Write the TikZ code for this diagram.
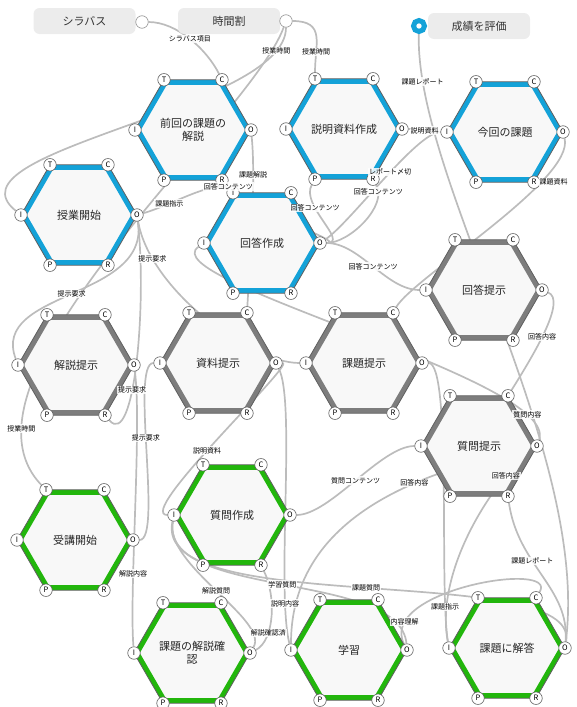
\documentclass[tikz,border=0pt]{standalone}
\usepackage{fontspec}
\setmainfont{Noto Sans CJK JP}
\usepackage{tikz}
\usetikzlibrary{shapes.geometric}
\definecolor{fblue}{RGB}{20,162,216}
\definecolor{fgray}{RGB}{125,125,125}
\definecolor{fgreen}{RGB}{34,182,12}
\definecolor{hexbg}{RGB}{248,248,248}
\definecolor{hexedge}{RGB}{95,95,95}
\definecolor{flowc}{RGB}{188,188,188}
\definecolor{boxc}{RGB}{236,236,236}
\pgfdeclarelayer{flows}
\pgfdeclarelayer{tags}
\pgfsetlayers{flows,main,tags}

\begin{document}
\begin{tikzpicture}[x=1pt,y=-1pt,
	fn/.style={regular polygon,regular polygon sides=6,minimum size=116pt,inner sep=0pt,outer sep=0pt,
		fill=hexbg,draw=hexedge,line width=0.8pt,align=center,text=black!85,font=\fontsize{11}{13.5}\selectfont,
		path picture={\draw[#1,line width=10pt] (path picture bounding box.center) +(0:58)
			\foreach \k in {60,120,...,300}{ -- +(\k:58)} -- cycle;}},
	aspect/.style={circle,draw=hexedge,fill=white,line width=0.6pt,minimum size=12.5pt,inner sep=0pt,font=\fontsize{7.5}{8}\selectfont},
	bgfn/.style={rounded corners=6pt,fill=boxc,minimum width=102pt,minimum height=26pt,font=\fontsize{11}{13}\selectfont,text=black!80},
	port/.style={circle,draw=hexedge!70,fill=white,line width=0.6pt,minimum size=12.5pt,inner sep=0pt},
	flow/.style={draw=flowc,line width=1.7pt},
	tag/.style={fill=white,fill opacity=.85,text opacity=1,inner sep=1pt,font=\fontsize{7}{8}\selectfont}]
	\useasboundingbox (0,0) rectangle (576,707);
	% background functions
	\node[bgfn] (syllabus) at (84.5,21) {シラバス};
	\node[port] (syllabus-o) at (142,22) {};
	\node[bgfn] (jikan) at (229,21) {時間割};
	\node[port] (jikan-o) at (286,21) {};
	\node[bgfn] (seiseki) at (479,26) {成績を評価};
	\node[circle,draw=fblue,fill=white,line width=5pt,minimum size=11pt,inner sep=0pt] (seiseki-i) at (419,26) {};
	% functions
	\node[fn=fblue] (zenkai) at (193,130) {前回の課題の\\解説};
	\node[fn=fblue] (setsumei) at (344,129) {説明資料作成};
	\node[fn=fblue] (konkai) at (505,132) {今回の課題};
	\node[fn=fblue] (jugyo) at (79,215) {授業開始};
	\node[fn=fblue] (kaitosakusei) at (262,243) {回答作成};
	\node[fn=fgray] (kaitoteiji) at (484,290) {回答提示};
	\node[fn=fgray] (kaisetsu) at (76,365) {解説提示};
	\node[fn=fgray] (shiryo) at (218,363) {資料提示};
	\node[fn=fgray] (kadai) at (364,363) {課題提示};
	\node[fn=fgray] (shitsumon) at (479,446) {質問提示};
	\node[fn=fgreen] (jukou) at (75,540) {受講開始};
	\node[fn=fgreen] (sakusei) at (232,515) {質問作成};
	\node[fn=fgreen] (kakunin) at (192,653) {課題の解説確\\認};
	\node[fn=fgreen] (gakushu) at (349,650) {学習};
	\node[fn=fgreen] (kaitou) at (507,648) {課題に解答};
	\foreach \f in {zenkai,setsumei,konkai,jugyo,kaitosakusei,kaitoteiji,kaisetsu,shiryo,kadai,shitsumon,jukou,sakusei,kakunin,gakushu,kaitou}
		\foreach \a/\d in {T/120,C/60,I/180,O/0,P/240,R/300}
			\node[aspect] (\f-\a) at (\f.\d) {\a};
	% couplings
	\begin{pgfonlayer}{flows}
		\draw[flow] (syllabus-o) .. controls +(35,0) and +(-15,-30) .. (zenkai-C) coordinate[pos=.5] (t1);
		\draw[flow] (jikan-o) .. controls +(0,89) and +(-81,-65) .. (jugyo-I) coordinate[pos=.1] (t2);
		\draw[flow] (jikan-o) .. controls +(40,0) and +(0,-35) .. (setsumei-T) coordinate[pos=.75] (t3);
		\draw[flow] (jikan-o) .. controls +(-36,99) and +(-106,-110) .. (jukou-T) coordinate[pos=.85] (t4);
		\draw[flow] (kaitou-O) .. controls +(25,-198) and +(-4,154) .. (seiseki-i) coordinate[pos=.9] (t5);
		\draw[flow] (setsumei-O) .. controls +(15,0) and +(-15,0) .. (konkai-I) coordinate[pos=.5] (t6);
		\draw[flow] (zenkai-O) .. controls +(5,50) and +(3,-53) .. (shiryo-C) coordinate[pos=.25] (t7);
		\draw[flow] (kaitosakusei-O) .. controls +(30,0) and +(15,26) .. (zenkai-R) coordinate[pos=.94,yshift=3pt] (t8);
		\draw[flow] (kaitosakusei-O) .. controls +(30,0) and +(-15,26) .. (setsumei-P) coordinate[pos=.68] (t9);
		\draw[flow] (kaitosakusei-O) .. controls +(30,0) and +(15,26) .. (setsumei-R) coordinate[pos=.9] (t10);
		\draw[flow] (konkai-O) .. controls +(12,48) and +(20,-35) .. (kadai-C) coordinate[pos=.27,xshift=12pt] (t11);
		\draw[flow] (jugyo-O) .. controls +(35,-10) and +(-20,-13) .. (kaitosakusei-T) coordinate[pos=.28] (t12);
		\draw[flow] (jugyo-O) .. controls +(13,75) and +(-56,0) .. (kadai-I) coordinate[pos=.18] (t13);
		\draw[flow] (jugyo-O) .. controls +(13,85) and +(-28,-75) .. (kaisetsu-I) coordinate[pos=.5] (t14);
		\draw[flow] (kaitosakusei-O) .. controls +(40,0) and +(-40,0) .. (kaitoteiji-I) coordinate[pos=.5] (t15);
		\draw[flow] (kaitoteiji-O) .. controls +(25,10) and +(25,-40) .. (shitsumon-C) coordinate[pos=.55] (t16);
		\draw[flow] (jugyo-O) .. controls +(10,85) and +(30,35) .. (kaisetsu-R) coordinate[pos=.62] (t17);
		\draw[flow] (shitsumon-O) .. controls +(23,-66) and +(-54,37) .. (kaitosakusei-I) coordinate[pos=.13] (t18);
		\draw[flow] (jukou-O) .. controls +(30,0) and +(-30,0) .. (shiryo-I) coordinate[pos=.55] (t19);
		\draw[flow] (shiryo-O) .. controls +(20,0) and +(-40,0) .. (sakusei-I) coordinate[pos=.55] (t20);
		\draw[flow] (shitsumon-O) .. controls +(-80,20) and +(0,-150) .. (gakushu-I) coordinate[pos=.4] (t21);
		\draw[flow] (shitsumon-O) .. controls +(-40,30) and +(-15,-80) .. (kaitou-I) coordinate[pos=.22] (t22);
		\draw[flow] (sakusei-O) .. controls +(40,0) and +(-40,0) .. (shitsumon-I) coordinate[pos=.5] (t23);
		\draw[flow] (kaisetsu-O) .. controls +(8,60) and +(-5,-60) .. (kakunin-I) coordinate[pos=.7] (t24);
		\draw[flow] (kakunin-O) .. controls +(20,-33) and +(-10,50) .. (sakusei-I) coordinate[pos=.5] (t25);
		\draw[flow] (gakushu-O) .. controls +(-7,-80) and +(-14,85) .. (sakusei-I) coordinate[pos=.5] (t26);
		\draw[flow] (kaitou-O) .. controls +(15,-88) and +(-24,105) .. (sakusei-I) coordinate[pos=.5] (t27);
		\draw[flow] (kaitou-O) .. controls +(5,-60) and +(10,70) .. (shitsumon-R) coordinate[pos=.62] (t28);
		\draw[flow] (shiryo-O) .. controls +(20,40) and +(-15,-60) .. (gakushu-I) coordinate[pos=.82] (t29);
		\draw[flow] (gakushu-O) .. controls +(-30,-60) and +(24,-38) .. (kaitou-C) coordinate[pos=.15] (t30);
		\draw[flow] (kadai-O) .. controls +(30,0) and +(-10,-60) .. (kaitou-I) coordinate[pos=.85] (t31);
		\draw[flow] (kakunin-O) .. controls +(25,-13) and +(15,30) .. (sakusei-R) coordinate[pos=.3] (t32);
		\draw[flow] (kaitosakusei-O) .. controls +(30,-20) and +(-30,0) .. (konkai-I) coordinate[pos=.55] (t33);
	\end{pgfonlayer}
	% coupling names
	\begin{pgfonlayer}{tags}
		\foreach \i/\s in {1/シラバス項目,2/授業時間,3/授業時間,4/授業時間,5/課題レポート,6/説明資料,7/課題解説,
			8/回答コンテンツ,9/回答コンテンツ,10/回答コンテンツ,11/課題資料,12/課題指示,13/提示要求,14/提示要求,
			15/回答コンテンツ,16/回答内容,17/提示要求,18/質問内容,19/提示要求,20/説明資料,21/回答内容,22/回答内容,
			23/質問コンテンツ,24/解説内容,25/解説質問,26/学習質問,27/課題質問,28/課題レポート,29/説明内容,
			30/内容理解,31/課題指示,32/解説確認済,33/レポート〆切}
			\node[tag] (tag\i) at (t\i) {\s};
	\end{pgfonlayer}
\end{tikzpicture}
\end{document}
